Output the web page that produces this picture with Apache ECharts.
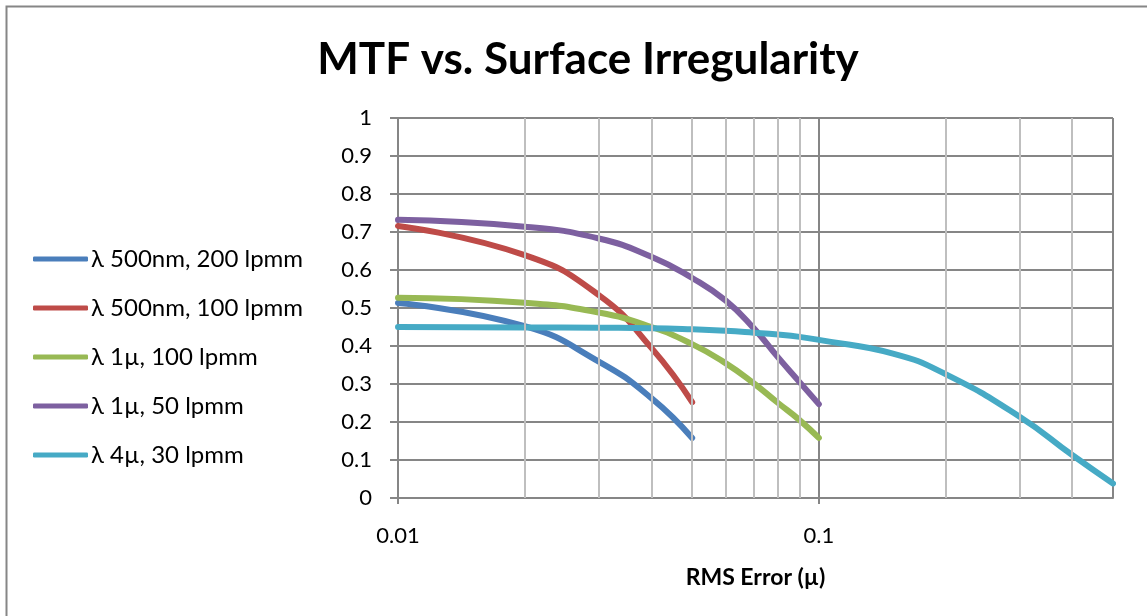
<!DOCTYPE html>
<html>
<head>
<meta charset="utf-8">
<script src="https://cdn.jsdelivr.net/npm/echarts@6/dist/echarts.min.js"></script>
<style>
    html, body { margin: 0; padding: 0; background: #fff; }
    #chart { width: 1147px; height: 616px; }
</style>
</head>
<body>
<div id="chart"></div>
<script>
    // values
    var names = ['λ 500nm, 200 lpmm', 'λ 500nm, 100 lpmm', 'λ 1µ, 100 lpmm', 'λ 1µ, 50 lpmm', 'λ 4µ, 30 lpmm'];
    var colors = ['#4a7ebb', '#be4b48', '#98b954', '#7d60a0', '#46aac5'];

    var xShort = [0.01, 0.02, 0.03, 0.04, 0.05];
    var xMid = [0.01, 0.02, 0.03, 0.04, 0.05, 0.06, 0.07, 0.08, 0.09, 0.1];
    var xLong = [0.01, 0.02, 0.03, 0.04, 0.05, 0.06, 0.07, 0.08, 0.09, 0.1, 0.15, 0.2, 0.3, 0.4, 0.5];

    var blue = [0.513, 0.452, 0.359, 0.263, 0.158];
    var red = [0.716, 0.639, 0.534, 0.395, 0.252];
    var green = [0.527, 0.514, 0.488, 0.45, 0.405, 0.355, 0.302, 0.25, 0.205, 0.158];
    var purple = [0.732, 0.714, 0.683, 0.635, 0.579, 0.52, 0.447, 0.37, 0.305, 0.247];
    var cyan = [0.45, 0.449, 0.448, 0.447, 0.444, 0.44, 0.435, 0.43, 0.424, 0.416, 0.38, 0.326, 0.214, 0.113, 0.038];

    var minorX = [0.02, 0.03, 0.04, 0.05, 0.06, 0.07, 0.08, 0.09, 0.2, 0.3, 0.4];

    function pairs(xs, ys) {
        return xs.map(function (x, i) { return [x, ys[i]]; });
    }

    var lines = [pairs(xShort, blue), pairs(xShort, red), pairs(xMid, green), pairs(xMid, purple), pairs(xLong, cyan)];

    var font = 'Lato, "Open Sans", sans-serif';

    var series = lines.map(function (d, i) {
        return {
            name: names[i],
            type: 'line',
            data: d,
            smooth: 0.5,
            showSymbol: false,
            symbol: 'none',
            z: 3,
            lineStyle: { color: colors[i], width: 6, cap: 'round' },
            itemStyle: { color: colors[i] }
        };
    });

    // minor vertical gridlines at 2..9 of each decade
    series.push({
        type: 'line',
        data: [],
        z: 1,
        silent: true,
        markLine: {
            silent: true,
            symbol: 'none',
            label: { show: false },
            lineStyle: { color: '#bfbfbf', width: 2, type: 'solid' },
            data: minorX.map(function (v) { return { xAxis: v }; })
        }
    });

    var myChart = echarts.init(document.getElementById('chart'));

    var option = {
        animation: false,
        backgroundColor: '#fff',
        title: {
            text: 'MTF vs. Surface Irregularity',
            left: 583,
            textAlign: 'center',
            top: 33,
            textStyle: { fontFamily: font, fontSize: 44, fontWeight: 'bold', color: '#000' }
        },
        legend: {
            orient: 'vertical',
            left: 33,
            top: 247,
            padding: 0,
            itemWidth: 55,
            itemHeight: 5,
            itemGap: 25,
            icon: 'roundRect',
            data: names,
            textStyle: { fontFamily: font, fontSize: 24, lineHeight: 24, color: '#000', padding: [0, 0, 0, -2] }
        },
        graphic: [{
            type: 'rect',
            shape: { x: 6.5, y: 6.5, width: 1200, height: 700 },
            style: { fill: 'none', stroke: '#868686', lineWidth: 2 },
            silent: true
        }],
        grid: { left: 398, right: 34, top: 118, bottom: 118 },
        xAxis: {
            type: 'log',
            logBase: 10,
            min: 0.01,
            max: 0.5,
            name: 'RMS Error (µ)',
            nameLocation: 'middle',
            nameGap: 68,
            nameTextStyle: { fontFamily: font, fontSize: 23, fontWeight: 'bold', color: '#000' },
            axisLine: { lineStyle: { color: '#868686', width: 2 } },
            axisTick: { show: true, length: 6, lineStyle: { color: '#868686', width: 2 } },
            axisLabel: {
                showMaxLabel: false,
                margin: 27,
                fontFamily: font, fontSize: 22, color: '#000',
                formatter: function (v) { return String(+v.toPrecision(3)); }
            },
            splitLine: { show: true, lineStyle: { color: '#868686', width: 2 } }
        },
        yAxis: {
            type: 'value',
            min: 0,
            max: 1,
            interval: 0.1,
            axisLine: { show: true, lineStyle: { color: '#868686', width: 2 } },
            axisTick: { show: true, length: 8, lineStyle: { color: '#868686', width: 2 } },
            axisLabel: {
                margin: 26,
                fontFamily: font, fontSize: 22, color: '#000',
                formatter: function (v) { return String(+v.toFixed(1)); }
            },
            splitLine: { show: true, lineStyle: { color: '#868686', width: 2 } }
        },
        series: series
    };

    myChart.setOption(option);
</script>
</body>
</html>
